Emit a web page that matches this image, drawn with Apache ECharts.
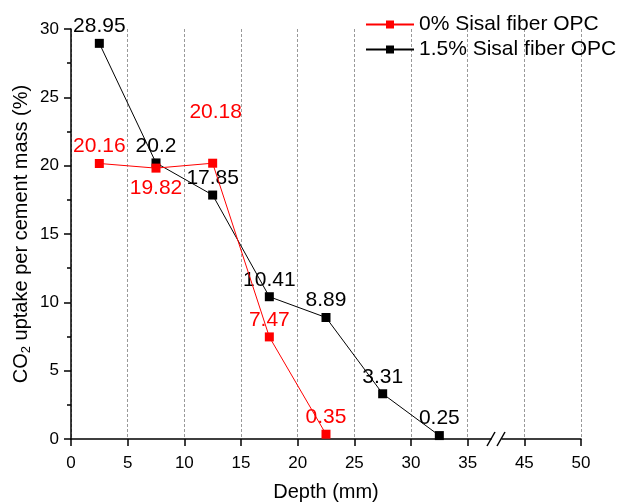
<!DOCTYPE html>
<html>
<head>
<meta charset="utf-8">
<script src="https://cdn.jsdelivr.net/npm/echarts@6.0.0/dist/echarts.min.js"></script>
<style>
html, body { margin: 0; background: #fff; }
#container { width: 621px; height: 503px; }
</style>
</head>
<body>
<div id="container"></div>
<script>
// depth of each slice (mm)
const depth = [2.5, 7.5, 12.5, 17.5, 22.5, 27.5, 32.5];
const plainOPC = [20.16, 19.82, 20.18, 7.47, 0.35];
const sisalOPC = [28.95, 20.2, 17.85, 10.41, 8.89, 3.31, 0.25];
const seriesNames = ['0% Sisal fiber OPC', '1.5% Sisal fiber OPC'];
const xTicks = [0, 5, 10, 15, 20, 25, 30, 35, 45, 50];

const font = 'Liberation Sans, Arial, sans-serif';

function makeData(values, tweak) {
  return values.map((v, i) => {
    const item = { value: [depth[i], v] };
    if (tweak && tweak[i]) item.label = tweak[i];
    return item;
  });
}

let myChart = echarts.init(document.getElementById('container'), null, { renderer: 'canvas' });

let option = {
  animation: false,
  textStyle: { fontFamily: font },
  grid: { left: 71, right: 40, top: 29, bottom: 64, outerBoundsMode: 'none' },
  legend: {
    orient: 'vertical',
    left: 360,
    top: 9,
    itemWidth: 48,
    itemHeight: 10,
    itemGap: 4,
    textStyle: { fontSize: 21, color: '#000', fontFamily: font },
    data: seriesNames
  },
  xAxis: {
    type: 'value',
    min: 0,
    max: 50,
    interval: 5,
    breaks: [{ start: 37, end: 43, gap: 1 }],
    breakArea: { show: false },
    name: 'Depth (mm)',
    nameLocation: 'middle',
    nameGap: 43,
    nameTextStyle: { fontSize: 20, color: '#000', fontFamily: font },
    axisLine: { lineStyle: { color: '#000', width: 1.5 } },
    axisTick: { length: 7, customValues: xTicks, lineStyle: { color: '#000', width: 1.5 } },
    axisLabel: { customValues: xTicks, fontSize: 17, color: '#000', margin: 16, fontFamily: font },
    splitLine: { show: true, lineStyle: { color: '#999', type: [3, 2], width: 1 } }
  },
  yAxis: {
    type: 'value',
    min: 0,
    max: 30,
    interval: 5,
    name: '{a|CO}{s|2}{a| uptake per cement mass (%)}',
    nameLocation: 'middle',
    nameGap: 38,
    nameMoveOverlap: false,
    nameTextStyle: {
      rich: {
        a: { fontSize: 20, color: '#000', fontFamily: font },
        s: { fontSize: 13, color: '#000', fontFamily: font, verticalAlign: 'bottom', padding: [11, 0, 0, 0] }
      }
    },
    axisLine: { show: true, lineStyle: { color: '#000', width: 1.5 } },
    axisTick: { show: true, length: 7, lineStyle: { color: '#000', width: 1.5 } },
    minorTick: { show: true, splitNumber: 2, length: 4, lineStyle: { color: '#000', width: 1.5 } },
    axisLabel: { fontSize: 17, color: '#000', margin: 12, fontFamily: font },
    splitLine: { show: false }
  },
  series: [
    {
      name: seriesNames[0],
      type: 'line',
      z: 4,
      symbol: 'rect',
      symbolSize: 9,
      itemStyle: { color: '#ff0000' },
      lineStyle: { color: '#ff0000', width: 1 },
      label: { show: true, position: 'top', distance: 2, fontSize: 21, color: '#ff0000', fontFamily: font },
      data: makeData(plainOPC, { 1: { position: 'bottom', distance: 5 }, 2: { offset: [3, -34] } })
    },
    {
      name: seriesNames[1],
      type: 'line',
      z: 3,
      symbol: 'rect',
      symbolSize: 9,
      itemStyle: { color: '#000' },
      lineStyle: { color: '#000', width: 1 },
      label: { show: true, position: 'top', distance: 2, fontSize: 21, color: '#000', fontFamily: font },
      data: makeData(sisalOPC)
    }
  ]
};
myChart.setOption(option);

// axis break marks "//" on the x axis
const bx = myChart.convertToPixel({ xAxisIndex: 0 }, 40);
const by = myChart.convertToPixel({ yAxisIndex: 0 }, 0);
myChart.setOption({
  graphic: [
    { type: 'rect', z: 100, shape: { x: bx - 4, y: by - 2, width: 8, height: 4 }, style: { fill: '#fff' } },
    { type: 'line', z: 101, shape: { x1: bx - 9, y1: by + 7, x2: bx - 1, y2: by - 7 }, style: { stroke: '#000', lineWidth: 1.5 } },
    { type: 'line', z: 101, shape: { x1: bx + 1, y1: by + 7, x2: bx + 9, y2: by - 7 }, style: { stroke: '#000', lineWidth: 1.5 } }
  ]
});
</script>
</body>
</html>
